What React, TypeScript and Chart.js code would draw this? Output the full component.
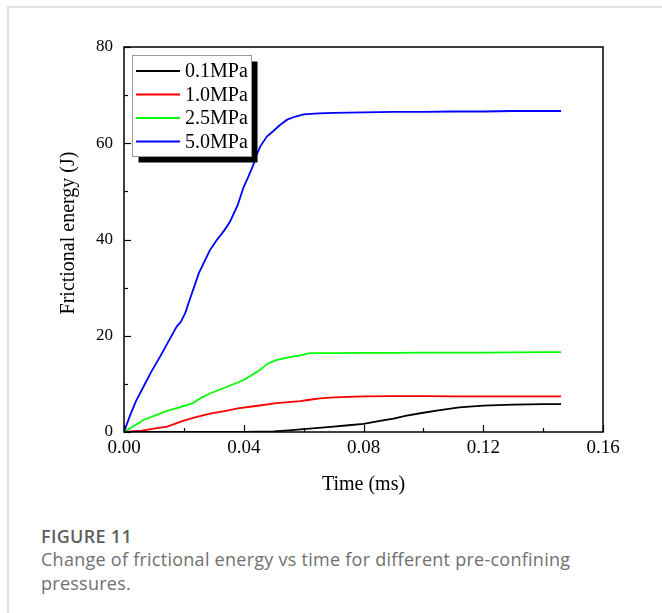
import React, { useEffect, useRef } from 'react';
import { Chart, registerables } from 'chart.js';

Chart.register(...registerables);

// ---- Data (time in ms, frictional energy in J) ----
const time01 = [0, 0.02, 0.04, 0.05, 0.055, 0.06, 0.065, 0.07, 0.075, 0.08, 0.0855, 0.09, 0.0944, 0.1, 0.105, 0.112, 0.12, 0.13, 0.14, 0.146];
const energy01 = [0, 0, 0, 0.15, 0.35, 0.6, 0.85, 1.1, 1.4, 1.7, 2.3, 2.8, 3.4, 4.0, 4.5, 5.1, 5.5, 5.7, 5.8, 5.8];

const time10 = [0, 0.006, 0.012, 0.0144, 0.0197, 0.024, 0.0287, 0.034, 0.038, 0.044, 0.051, 0.0588, 0.062, 0.0655, 0.07, 0.08, 0.09, 0.1, 0.11, 0.12, 0.13, 0.14, 0.146];
const energy10 = [0, 0.3, 0.9, 1.1, 2.3, 3.1, 3.8, 4.4, 4.9, 5.4, 6.0, 6.4, 6.7, 7.0, 7.2, 7.4, 7.45, 7.45, 7.4, 7.4, 7.4, 7.4, 7.4];

const time25 = [0, 0.0065, 0.0143, 0.018, 0.023, 0.026, 0.0287, 0.034, 0.04, 0.0454, 0.048, 0.051, 0.055, 0.0588, 0.062, 0.07, 0.08, 0.09, 0.1, 0.11, 0.12, 0.13, 0.14, 0.146];
const energy25 = [0, 2.5, 4.4, 5.0, 6.0, 7.2, 8.0, 9.3, 10.8, 12.9, 14.2, 15.0, 15.5, 15.9, 16.4, 16.4, 16.45, 16.45, 16.5, 16.5, 16.5, 16.55, 16.6, 16.6];

const time50 = [0, 0.002, 0.004, 0.0065, 0.009, 0.012, 0.015, 0.0176, 0.019, 0.0205, 0.022, 0.025, 0.0287, 0.031, 0.0335, 0.0354, 0.038, 0.0399, 0.0415, 0.0432, 0.0443, 0.0455, 0.0477, 0.05, 0.0521, 0.0545, 0.057, 0.06, 0.065, 0.07, 0.08, 0.09, 0.1, 0.11, 0.12, 0.13, 0.14, 0.146];
const energy50 = [0, 3.4, 6.4, 9.4, 12.4, 15.6, 19.0, 21.9, 22.9, 24.8, 27.6, 33.0, 37.8, 39.9, 41.9, 43.7, 47.2, 50.8, 53.0, 55.5, 57.6, 59.3, 61.4, 62.6, 63.8, 64.9, 65.5, 66.0, 66.2, 66.3, 66.4, 66.5, 66.5, 66.6, 66.6, 66.7, 66.7, 66.7];

const seriesLabels = ['0.1MPa', '1.0MPa', '2.5MPa', '5.0MPa'];
const seriesColors = ['#000000', '#ff0000', '#00ff00', '#0000ff'];
const seriesTimes = [time01, time10, time25, time50];
const seriesEnergy = [energy01, energy10, energy25, energy50];

const xMin = 0, xMax = 0.16, xLabelStep = 0.04, xMinorStep = 0.02;
const yMin = 0, yMax = 80, yLabelStep = 20, yMinorStep = 10;
const xTitle = 'Time (ms)';
const yTitle = 'Frictional energy (J)';
const captionHead = 'FIGURE 11';
const captionLine1 = 'Change of frictional energy vs time for different pre-confining';
const captionLine2 = 'pressures.';

const SERIF = "'Liberation Serif', 'Times New Roman', serif";

const framePlugin = {
  id: 'framePlugin',
  afterDraw(chart: any) {
    const { ctx, chartArea: a, scales } = chart;
    const xs = scales.x, ys = scales.y;
    ctx.save();
    // plot border
    ctx.strokeStyle = '#000';
    ctx.lineWidth = 1.5;
    ctx.strokeRect(a.left, a.top, a.right - a.left, a.bottom - a.top);
    // inward ticks
    ctx.lineWidth = 1.2;
    const nx = Math.round((xMax - xMin) / xMinorStep);
    for (let i = 0; i <= nx; i++) {
      const v = xMin + i * xMinorStep;
      const px = Math.round(xs.getPixelForValue(v)) + 0.5;
      const len = i % Math.round(xLabelStep / xMinorStep) === 0 ? 7 : 4;
      ctx.beginPath();
      ctx.moveTo(px, a.bottom);
      ctx.lineTo(px, a.bottom - len);
      ctx.stroke();
    }
    const ny = Math.round((yMax - yMin) / yMinorStep);
    for (let i = 0; i <= ny; i++) {
      const v = yMin + i * yMinorStep;
      const py = Math.round(ys.getPixelForValue(v)) + 0.5;
      const len = i % Math.round(yLabelStep / yMinorStep) === 0 ? 7 : 4;
      ctx.beginPath();
      ctx.moveTo(a.left, py);
      ctx.lineTo(a.left + len, py);
      ctx.stroke();
    }
    // axis titles
    ctx.fillStyle = '#000';
    ctx.font = `20px ${SERIF}`;
    ctx.textAlign = 'center';
    ctx.textBaseline = 'alphabetic';
    ctx.fillText(xTitle, (a.left + a.right) / 2, 490);
    ctx.save();
    ctx.translate(74, 233);
    ctx.rotate(-Math.PI / 2);
    ctx.fillText(yTitle, 0, 0);
    ctx.restore();

    // legend with drop shadow
    const bx = a.left + 8.5, by = a.top + 8.5, bw = 119, bh = 101;
    ctx.fillStyle = '#000';
    ctx.fillRect(bx + 6, by + 6, bw, bh);
    ctx.fillStyle = '#fff';
    ctx.fillRect(bx, by, bw, bh);
    ctx.strokeStyle = '#9a9a9a';
    ctx.lineWidth = 1;
    ctx.strokeRect(bx, by, bw, bh);
    const rowY = [71, 94.5, 118, 141.5];
    ctx.font = `20px ${SERIF}`;
    ctx.textAlign = 'left';
    ctx.textBaseline = 'middle';
    chart.data.datasets.forEach((ds: any, i: number) => {
      const yy = rowY[i];
      ctx.strokeStyle = ds.borderColor;
      ctx.lineWidth = 2;
      ctx.beginPath();
      ctx.moveTo(a.left + 12, yy);
      ctx.lineTo(a.left + 56, yy);
      ctx.stroke();
      ctx.fillStyle = '#000';
      ctx.fillText(ds.label, a.left + 61, yy + 1);
    });
    ctx.restore();
  },
};

export default function App() {
  const canvasRef = useRef<HTMLCanvasElement | null>(null);

  useEffect(() => {
    if (!canvasRef.current) return;
    Chart.defaults.font.family = SERIF;
    const datasets = seriesLabels.map((label, i) => ({
      label,
      data: seriesTimes[i].map((t, j) => ({ x: t, y: seriesEnergy[i][j] })),
      borderColor: seriesColors[i],
      backgroundColor: seriesColors[i],
      borderWidth: 1.8,
      pointRadius: 0,
      tension: 0,
      fill: false,
    }));
    const chart = new Chart(canvasRef.current, {
      type: 'line',
      data: { datasets },
      options: {
        animation: false,
        responsive: false,
        devicePixelRatio: 1,
        layout: { padding: { left: 0, top: 47, right: 59, bottom: 0 } },
        plugins: { legend: { display: false }, tooltip: { enabled: false } },
        scales: {
          x: {
            type: 'linear',
            min: xMin,
            max: xMax,
            grid: { display: false, drawTicks: false },
            border: { display: false },
            ticks: {
              stepSize: xLabelStep,
              autoSkip: false,
              maxRotation: 0,
              color: '#000',
              padding: 5,
              font: { size: 19, family: SERIF },
              callback: (v: any) => Number(v).toFixed(2),
            },
            afterFit: (s: any) => { s.height = 78; },
          },
          y: {
            type: 'linear',
            min: yMin,
            max: yMax,
            grid: { display: false, drawTicks: false },
            border: { display: false },
            ticks: {
              stepSize: yLabelStep,
              color: '#000',
              padding: 11,
              font: { size: 17, family: SERIF },
            },
            afterFit: (s: any) => { s.width = 124; },
          },
        },
      },
      plugins: [framePlugin],
    } as any);
    return () => chart.destroy();
  }, []);

  return (
    <div style={{ position: 'absolute', left: 0, top: 0, width: 662, height: 613, background: '#fff', overflow: 'hidden' }}>
      <div style={{ position: 'absolute', left: 7, top: 6, width: 655, height: 2, background: '#e3e3e3' }} />
      <div style={{ position: 'absolute', left: 7, top: 6, width: 2, height: 607, background: '#e3e3e3' }} />
      <canvas ref={canvasRef} width={662} height={510} style={{ position: 'absolute', left: 0, top: 0, display: 'block' }} />
      <div style={{ position: 'absolute', left: 41, top: 524, fontFamily: "'Open Sans', sans-serif", fontSize: 18, lineHeight: '24px', fontWeight: 600, letterSpacing: '0.3px', color: '#5f5f5f', whiteSpace: 'nowrap' }}>
        {captionHead}
      </div>
      <div style={{ position: 'absolute', left: 41, top: 547, fontFamily: "'Open Sans', sans-serif", fontSize: 18, lineHeight: '24px', fontWeight: 400, letterSpacing: '0.26px', color: '#707070', whiteSpace: 'nowrap' }}>
        {captionLine1}
        <br />
        {captionLine2}
      </div>
    </div>
  );
}
